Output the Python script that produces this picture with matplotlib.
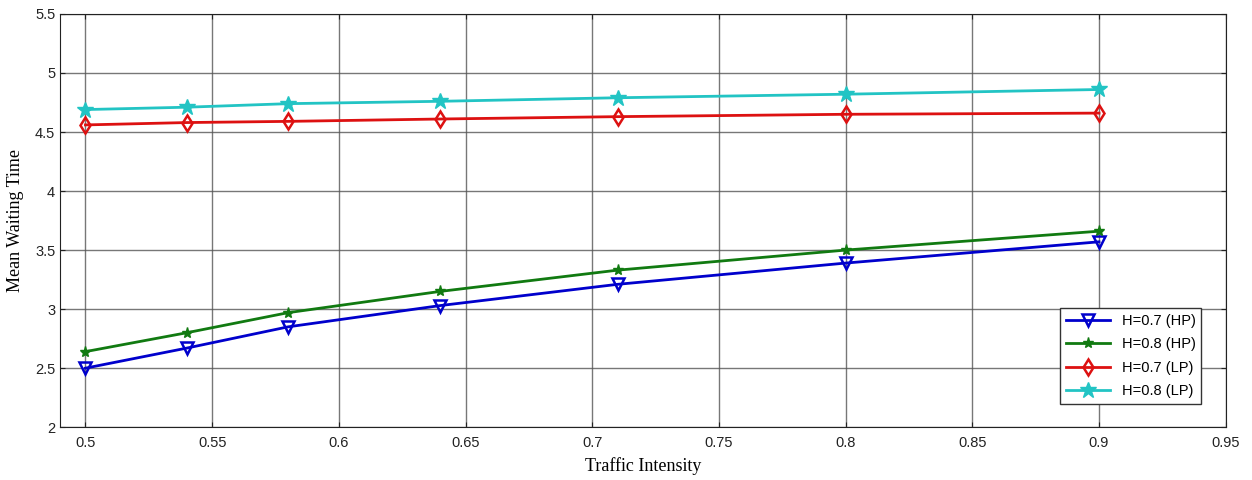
import matplotlib
matplotlib.use("Agg")
import matplotlib.pyplot as plt

traffic = [0.5, 0.54, 0.58, 0.64, 0.71, 0.8, 0.9]
hp_07 = [2.50, 2.67, 2.85, 3.03, 3.21, 3.39, 3.57]
hp_08 = [2.64, 2.80, 2.97, 3.15, 3.33, 3.50, 3.66]
lp_07 = [4.56, 4.58, 4.59, 4.61, 4.63, 4.65, 4.66]
lp_08 = [4.69, 4.71, 4.74, 4.76, 4.79, 4.82, 4.86]

fig = plt.figure(figsize=(12.52, 4.8), dpi=100)
ax = fig.add_axes([0.048, 0.110, 0.931, 0.861])

ax.plot(traffic, hp_07, color="#0000cc", lw=2, marker="v", ms=9,
        mfc="none", mew=1.8, label="H=0.7 (HP)")
ax.plot(traffic, hp_08, color="#117a11", lw=2, marker="*", ms=8,
        label="H=0.8 (HP)")
ax.plot(traffic, lp_07, color="#dd1111", lw=2, marker="d", ms=8,
        mfc="none", mew=1.8, label="H=0.7 (LP)")
ax.plot(traffic, lp_08, color="#22c4c4", lw=2, marker="*", ms=12,
        label="H=0.8 (LP)")

ax.set_xlim(0.49, 0.95)
ax.set_ylim(2, 5.5)
ax.set_xticks([0.5, 0.55, 0.6, 0.65, 0.7, 0.75, 0.8, 0.85, 0.9, 0.95])
ax.set_xticklabels(["0.5", "0.55", "0.6", "0.65", "0.7", "0.75", "0.8", "0.85", "0.9", "0.95"])
ax.set_yticks([2, 2.5, 3, 3.5, 4, 4.5, 5, 5.5])
ax.set_yticklabels(["2", "2.5", "3", "3.5", "4", "4.5", "5", "5.5"])
ax.tick_params(direction="in", top=True, right=True, labelsize=10.5, colors="#222222")
ax.tick_params(axis="x", pad=6.5)
for lbl in ax.get_xticklabels() + ax.get_yticklabels():
    lbl.set_fontfamily("Liberation Sans")

ax.grid(True, color="#555555", lw=1, alpha=0.8)
for s in ax.spines.values():
    s.set_color("#222222")

ax.set_xlabel("Traffic Intensity", family="Liberation Serif", fontsize=13, labelpad=5)
ax.set_ylabel("Mean Waiting Time", family="Liberation Serif", fontsize=13, labelpad=8)

leg = ax.legend(loc="lower right", bbox_to_anchor=(0.979, 0.056),
                prop={"family": "Liberation Sans", "size": 10.5},
                fancybox=False, framealpha=1, edgecolor="#333333",
                handlelength=3, borderpad=0.4, labelspacing=0.65,
                borderaxespad=0)
leg.get_frame().set_linewidth(1)

fig.savefig("out.png", dpi=100)
